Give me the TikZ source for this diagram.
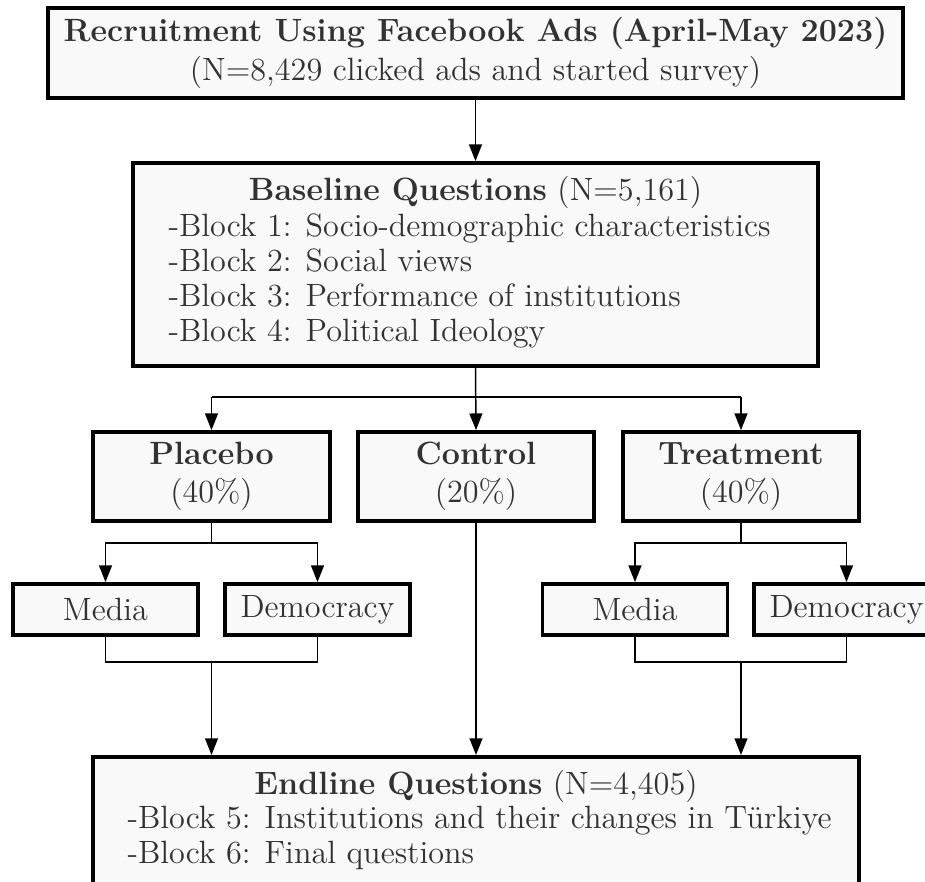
\documentclass[tikz,border=0pt]{standalone}
\usetikzlibrary{arrows.meta}
\definecolor{boxfill}{RGB}{249,249,249}
\definecolor{txt}{RGB}{50,50,50}
\def\px{0.3724pt}
\begin{document}
\begin{tikzpicture}[x=0.3724pt,y=-0.3724pt,
  box/.style={draw=black, line width=1.4pt, fill=boxfill, text=txt, inner sep=0pt, align=center, font=\fontsize{12}{13}\selectfont},
  lbl/.style={text=txt, inner sep=0pt, font=\fontsize{12}{13}\selectfont},
  conn/.style={line width=0.55pt, draw=black},
  arr/.style={conn, -{Triangle[length=6.2pt,width=4.8pt]}},
]
\clip (0,0) rectangle (925,882);
% boxes
\node[box, minimum width=855*\px, minimum height=90*\px] (top) at (475.5,53)
  {\textbf{Recruitment Using Facebook Ads (April-May 2023)}\\[1.5pt](N=8,429 clicked ads and started survey)};
\node[box, minimum width=685*\px, minimum height=203*\px] (base) at (475.5,264.5) {};
\node[lbl] (baset) at (475.5,192) {\textbf{Baseline Questions} (N=5,161)};
\node[lbl, anchor=west, align=left] (basel) at (168,281)
  {-Block 1: Socio-demographic characteristics\\-Block 2: Social views\\-Block 3: Performance of institutions\\-Block 4: Political Ideology};
\node[box, minimum width=237*\px, minimum height=89*\px] (plac) at (211.5,476.5) {\textbf{Placebo}\\[1pt](40\%)};
\node[box, minimum width=236*\px, minimum height=89*\px] (ctrl) at (476,476.5) {\textbf{Control}\\[1pt](20\%)};
\node[box, minimum width=236*\px, minimum height=89*\px] (treat) at (741,476.5) {\textbf{Treatment}\\[1pt](40\%)};
\node[box, minimum width=185*\px, minimum height=51*\px] (mp) at (105.5,609.5) {Media};
\node[box, minimum width=185*\px, minimum height=51*\px] (dp) at (317.5,609.5) {Democracy};
\node[box, minimum width=185*\px, minimum height=51*\px] (mt) at (635,609.5) {Media};
\node[box, minimum width=185*\px, minimum height=51*\px] (dt) at (846.5,609.5) {Democracy};
\node[box, minimum width=766*\px, minimum height=200*\px, anchor=north] (end) at (476,755) {};
\node[lbl] (endt) at (476,786) {\textbf{Endline Questions} (N=4,405)};
\node[lbl, anchor=west, align=left] (endl) at (127,838)
  {-Block 5: Institutions and their changes in Türkiye\\-Block 6: Final questions};
% connectors
\draw[arr] (top.south) -- (base.north);
\draw[arr] (base.south) -- (ctrl.north);
\coordinate (bj) at (476,397);
\draw[conn] (bj -| plac.north) -- (bj -| treat.north);
\draw[arr] (bj -| plac.north) -- (plac.north);
\draw[arr] (bj -| treat.north) -- (treat.north);
% placebo split
\coordinate (ps) at (211.5,543);
\draw[conn] (plac.south) -- (ps);
\draw[arr] (ps) -| (mp.north);
\draw[arr] (ps) -| (dp.north);
% treatment split
\coordinate (ts) at (741,543);
\draw[conn] (treat.south) -- (ts);
\draw[arr] (ts) -| (mt.north);
\draw[arr] (ts) -| (dt.north);
% merges
\coordinate (pm) at (211.5,662);
\draw[conn] (mp.south) |- (pm);
\draw[conn] (dp.south) |- (pm);
\draw[arr] (pm) -- (pm |- end.north);
\coordinate (tm) at (741,662);
\draw[conn] (mt.south) |- (tm);
\draw[conn] (dt.south) |- (tm);
\draw[arr] (tm) -- (tm |- end.north);
\draw[arr] (ctrl.south) -- (ctrl.south |- end.north);
\end{tikzpicture}
\end{document}
